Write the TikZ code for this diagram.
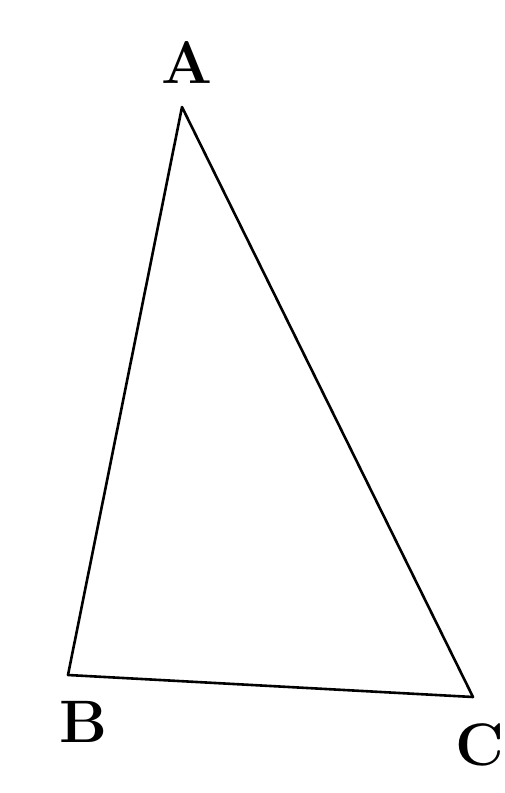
\documentclass[tikz,border=0pt]{standalone}
\usetikzlibrary{positioning}

\begin{document}
\begin{tikzpicture}[
  x=1pt, y=-1pt,
  side/.style={draw=black, line width=2.6pt, line join=round},
  vlabel/.style={font=\fontsize{60}{60}\selectfont\bfseries, inner sep=0pt},
]
\useasboundingbox (0,0) rectangle (504,793);
% vertices
\coordinate (a) at (182,107);
\coordinate (b) at (68,675);
\coordinate (c) at (473,697);

% triangle
\draw[side] (a) -- (b) -- (c) -- cycle;

% labels
\node[vlabel] (la) at (187,62) {A};
\node[vlabel] (lb) at (83,722) {B};
\node[vlabel] (lc) at (480,745) {C};
\end{tikzpicture}
\end{document}
